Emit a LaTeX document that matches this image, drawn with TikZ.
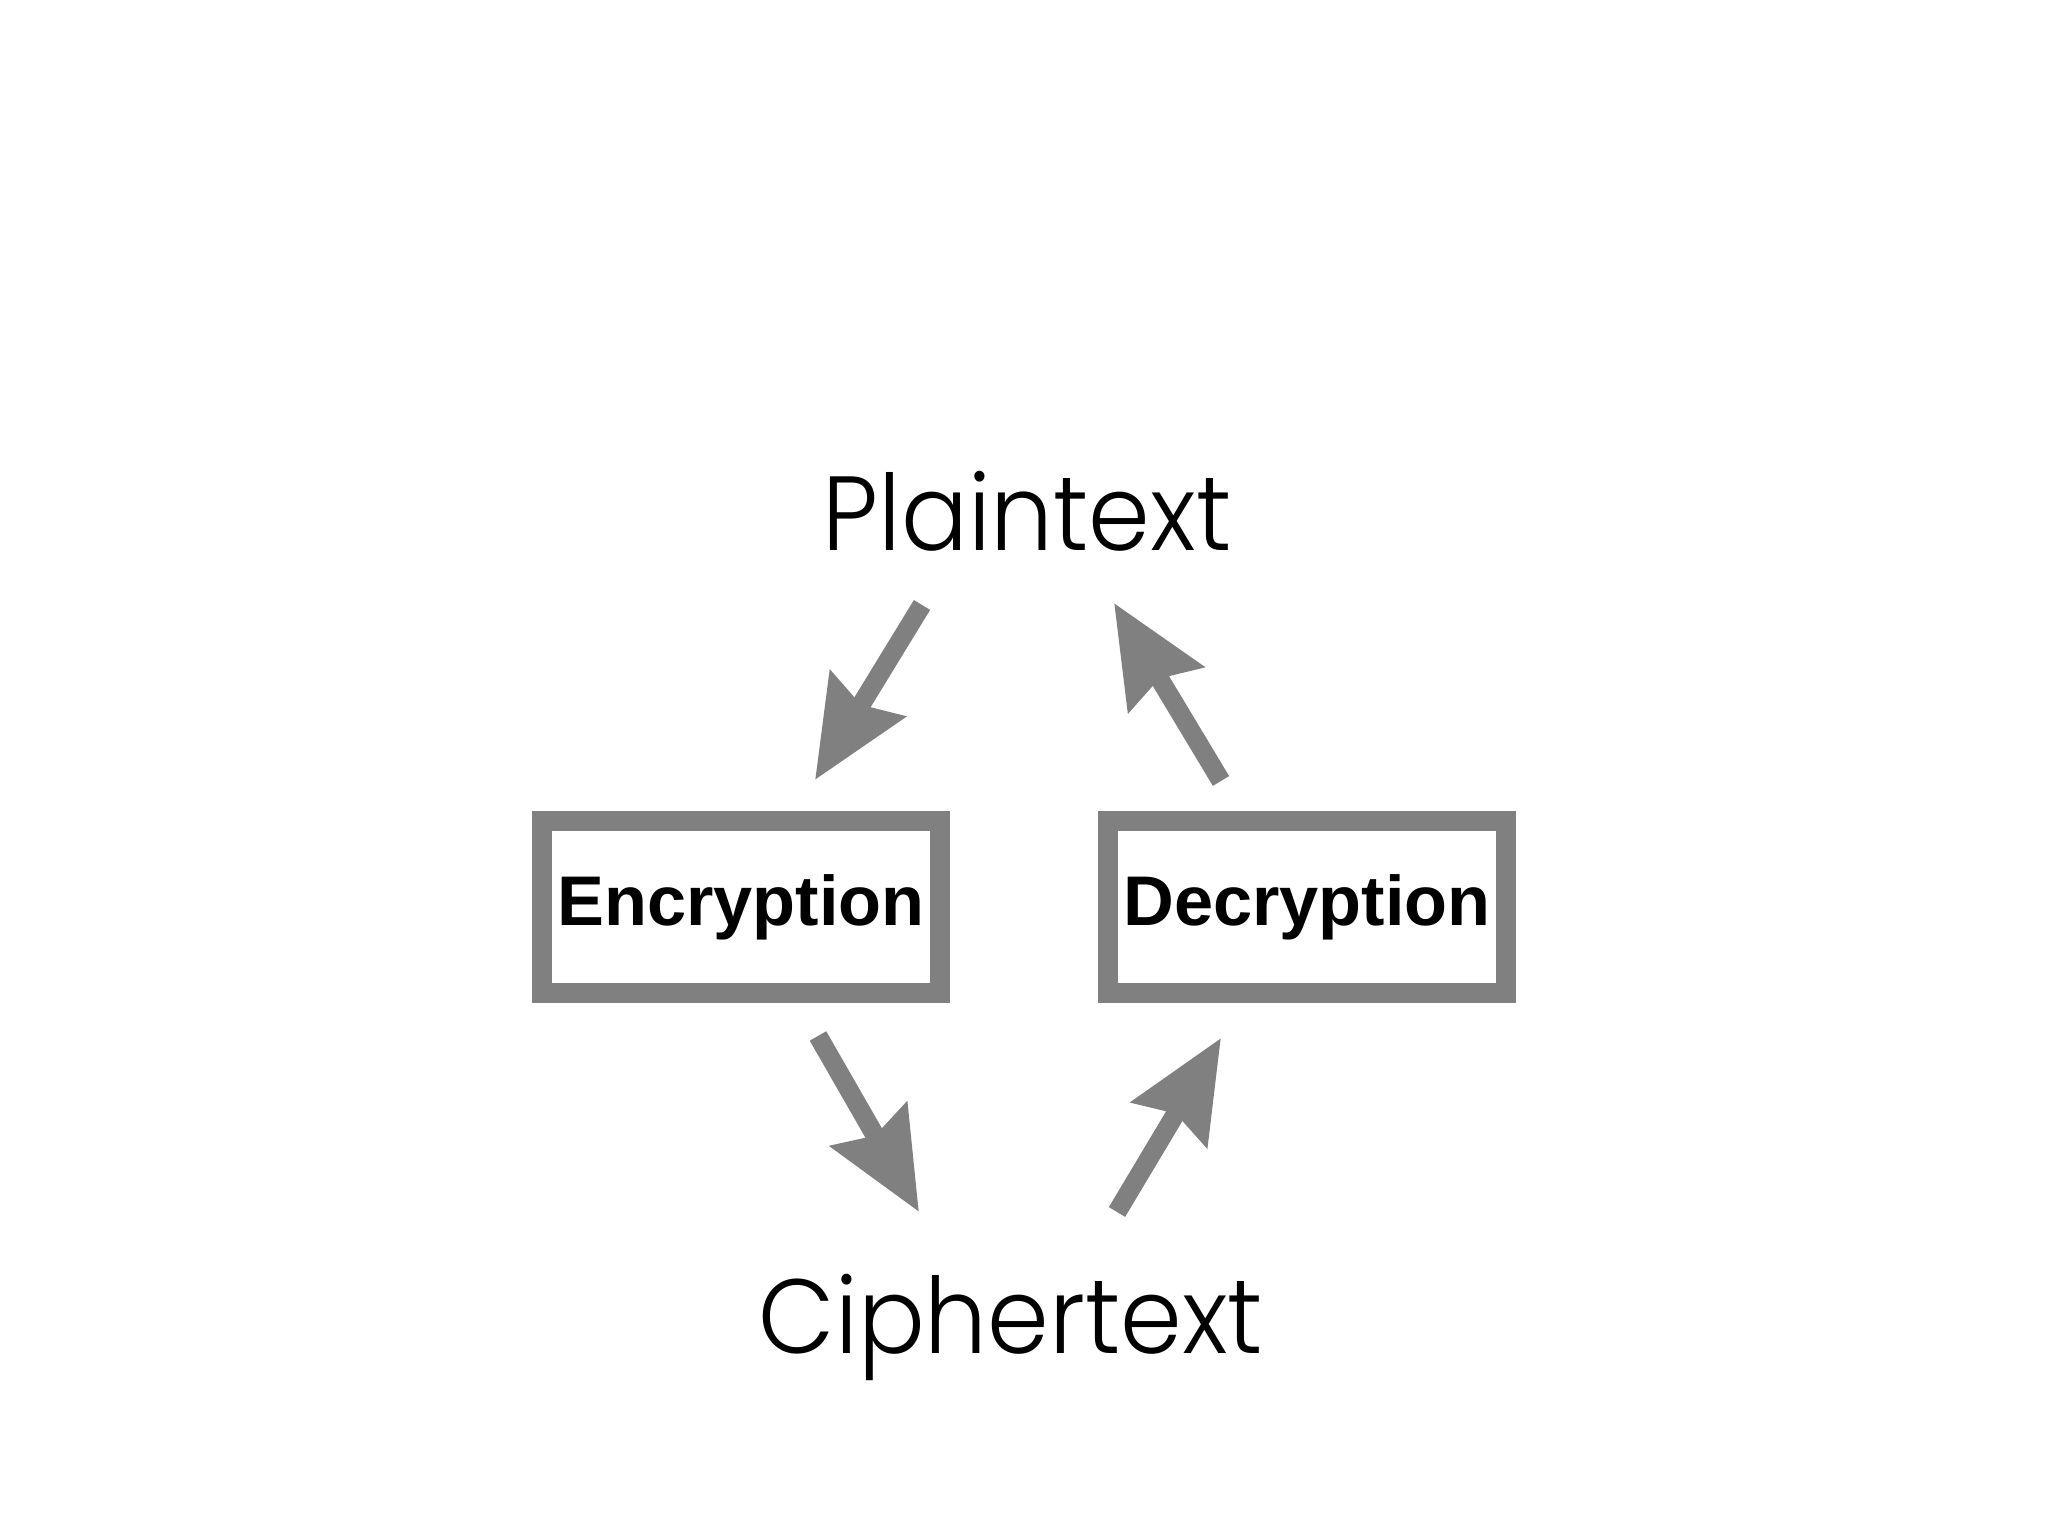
\documentclass[tikz,border=0pt]{standalone}
\usepackage{fontspec}
\setmainfont{Liberation Sans}
\newfontfamily\thinfont{Poppins Light}[FakeStretch=0.94]
\usetikzlibrary{arrows.meta}

\tikzset{
  cryptbox/.style={draw=gray, line width=0.2cm, fill=white, minimum width=3.98cm,
    minimum height=1.72cm, inner sep=0pt, font=\fontsize{20}{24}\selectfont\bfseries},
  term/.style={anchor=base, inner sep=0pt, font=\thinfont\fontsize{30}{36}\selectfont},
  flow/.style={draw=gray, line width=0.19cm, -{Stealth[length=1cm, width=0.86cm, inset=0.12cm]}}
}

\begin{document}
\begin{tikzpicture}
\useasboundingbox (0,0) rectangle (20.48,15.36);
% texts and boxes
\node[term] (plain) at (10.27,9.85) {Plaintext};
\node[term] (cipher) at (10.11,1.82) {Ciphertext};
\node[cryptbox] (enc) at (7.41,6.29) {Encryption};
\node[cryptbox] (dec) at (13.07,6.29) {\raisebox{-0.05cm}{Decryption}};
% arrows
\draw[flow] ([shift={(-1.05,-0.54)}]plain.base) -- ([shift={(0.74,0.31)}]enc.north);
\draw[flow] ([shift={(0.77,-0.33)}]enc.south) -- ([shift={(-0.92,1.42)}]cipher.base);
\draw[flow] ([shift={(1.06,1.42)}]cipher.base) -- ([shift={(-0.86,-0.35)}]dec.south);
\draw[flow] ([shift={(-0.86,0.30)}]dec.north) -- ([shift={(0.87,-0.52)}]plain.base);
\end{tikzpicture}
\end{document}
